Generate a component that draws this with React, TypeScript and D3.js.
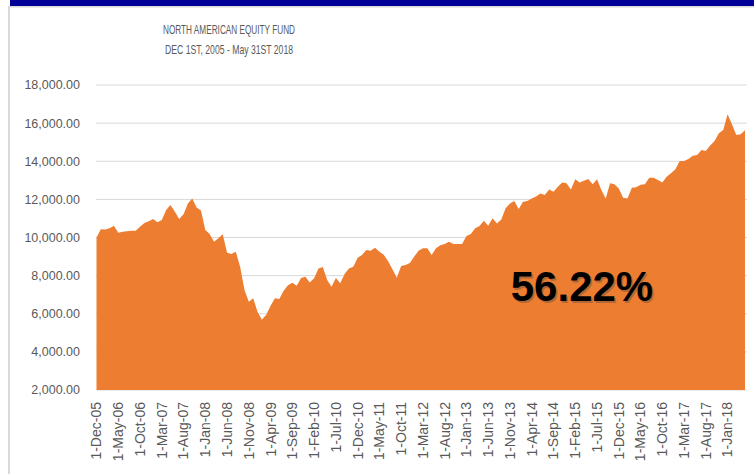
import * as React from 'react';
import { scaleLinear, area, curveLinear } from 'd3';

// monthly fund value, 1-Dec-05 .. 1-May-18
const fundValues: number[] = [
  10000, 10430, 10420, 10480, 10620, 10250, 10300, 10330, 10350, 10360,
  10560, 10760, 10850, 10970, 10800, 10920, 11440, 11700, 11350, 10970,
  11220, 11790, 12040, 11580, 11410, 10390, 10180, 9780, 9960, 10170,
  9200, 9130, 9250, 8470, 7250, 6630, 6810, 6100, 5680, 5950,
  6420, 6810, 6770, 7210, 7500, 7620, 7470, 7880, 7940, 7640,
  7860, 8380, 8450, 7770, 7420, 7880, 7600, 8090, 8380, 8470,
  8940, 9080, 9340, 9310, 9460, 9250, 9100, 8750, 8330, 7890,
  8500, 8560, 8660, 9000, 9310, 9430, 9430, 9080, 9430, 9600,
  9660, 9780, 9660, 9660, 9660, 10080, 10180, 10480, 10600, 10880,
  10620, 11010, 10740, 10950, 11530, 11790, 11920, 11500, 11880, 11920,
  12050, 12150, 12310, 12230, 12520, 12400, 12660, 12890, 12840, 12520,
  13050, 12890, 12980, 13070, 12800, 13050, 12490, 12050, 12840, 12790,
  12570, 12090, 12050, 12610, 12630, 12770, 12800, 13140, 13140, 13020,
  12880, 13190, 13370, 13580, 14010, 14010, 14120, 14290, 14330, 14590,
  14540, 14820, 15060, 15470, 15640, 16460, 15940, 15380, 15410, 15622,
];

const xTickLabels: string[] = [
  '1-Dec-05', '1-May-06', '1-Oct-06', '1-Mar-07', '1-Aug-07', '1-Jan-08',
  '1-Jun-08', '1-Nov-08', '1-Apr-09', '1-Sep-09', '1-Feb-10', '1-Jul-10',
  '1-Dec-10', '1-May-11', '1-Oct-11', '1-Mar-12', '1-Aug-12', '1-Jan-13',
  '1-Jun-13', '1-Nov-13', '1-Apr-14', '1-Sep-14', '1-Feb-15', '1-Jul-15',
  '1-Dec-15', '1-May-16', '1-Oct-16', '1-Mar-17', '1-Aug-17', '1-Jan-18',
];
const xTickStep = 5;

const yTicks: number[] = [2000, 4000, 6000, 8000, 10000, 12000, 14000, 16000, 18000];

const titleLines: string[] = ['NORTH AMERICAN EQUITY FUND', 'DEC 1ST, 2005 - May 31ST 2018'];
const totalReturn = '56.22%';

const W = 754;
const H = 474;

/* Component */
export default function App(): JSX.Element {
  const xScale = scaleLinear()
    .domain([0, fundValues.length - 1])
    .range([96.5, 745]);

  const yScale = scaleLinear()
    .domain([2000, 18000])
    .range([390, 85]);

  const fundArea = area<number>()
    .x((d, i) => xScale(i))
    .y0(yScale(2000))
    .y1(d => yScale(d))
    .curve(curveLinear);

  const fmt = (v: number) =>
    v.toLocaleString('en-US', { minimumFractionDigits: 2, maximumFractionDigits: 2 });

  const grey = '#595959';
  const titleWidths = [132, 128];

  return (
    <svg
      width={W}
      height={H}
      style={{ position: 'absolute', left: 0, top: 0, background: '#fff' }}
    >
      {/* frame */}
      <rect x={10} y={0} width={W - 10} height={6} fill="#000099" />
      <rect x={8} y={6} width={W - 8} height={1.5} fill="#d9d9d9" />
      <rect x={8} y={6} width={2} height={H - 6} fill="#d9d9d9" />

      {/* title */}
      {titleLines.map((t, i) => (
        <text
          key={t}
          x={229}
          y={34 + i * 20}
          textAnchor="middle"
          fill={grey}
          fontSize={13}
          textLength={titleWidths[i]}
          lengthAdjust="spacingAndGlyphs"
          fontFamily="'Liberation Sans Narrow', 'Liberation Sans', sans-serif"
        >
          {t}
        </text>
      ))}

      {/* grid + y labels */}
      {yTicks.map(v => (
        <g key={v}>
          <line
            x1={96}
            x2={747}
            y1={yScale(v)}
            y2={yScale(v)}
            stroke="#d9d9d9"
            strokeWidth={1}
          />
          <text
            x={80}
            y={yScale(v)}
            dy="0.35em"
            textAnchor="end"
            fill={grey}
            fontSize={12.5}
            fontFamily="'Liberation Sans', Arial, sans-serif"
          >
            {fmt(v)}
          </text>
        </g>
      ))}

      <path d={fundArea(fundValues) || ''} fill="#ED7D31" />

      {/* x labels */}
      {xTickLabels.map((lab, k) => {
        const x = xScale(k * xTickStep);
        return (
          <text
            key={lab}
            transform={`translate(${x},402) rotate(-90)`}
            dy="0.35em"
            textAnchor="end"
            fill={grey}
            fontSize={14}
            fontFamily="'Liberation Sans', Arial, sans-serif"
          >
            {lab}
          </text>
        );
      })}

      {/* total return */}
      <text
        x={582 + 1.5}
        y={301 + 1.5}
        textAnchor="middle"
        fontSize={42}
        fontWeight="bold"
        fill="#8a5a3a"
        opacity={0.6}
        fontFamily="'Liberation Sans', Arial, sans-serif"
      >
        {totalReturn}
      </text>
      <text
        x={582}
        y={301}
        textAnchor="middle"
        fontSize={42}
        fontWeight="bold"
        fill="#000"
        fontFamily="'Liberation Sans', Arial, sans-serif"
      >
        {totalReturn}
      </text>
    </svg>
  );
}
